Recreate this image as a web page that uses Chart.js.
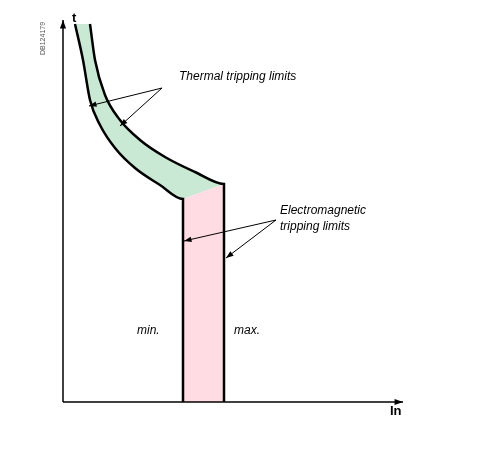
<!DOCTYPE html>
<html><head><meta charset="utf-8">
<script src="https://cdn.jsdelivr.net/npm/chart.js@4/dist/chart.umd.min.js"></script>
<style>html,body{margin:0;background:#fff}#wrap{width:482px;height:465px}</style>
</head><body><div id="wrap"><canvas id="c"></canvas></div>
<script>
// values in diagram units: x = current (In), y = time (t)
const minCurve = [[12,378],[20,342],[27,302],[37,277],[52,254],[72,234],[97,217],[120,203],[120,0]]
const maxCurve = [[27,378],[32,342],[42,307],[57,282],[77,262],[102,245],[132,230],[161,218],[161,0]]
const axisEnd = {x: 340, y: 382}

const pts = a => a.map(p => ({x: p[0], y: p[1]}))

const bands = {
  id: 'bands',
  beforeDatasetsDraw(chart) {
    let ctx = chart.ctx, sx = chart.scales.x, sy = chart.scales.y
    let P = p => [sx.getPixelForValue(p[0]), sy.getPixelForValue(p[1])]
    let poly = (list, color) => {
      ctx.beginPath()
      list.forEach((p, i) => { let q = P(p); i ? ctx.lineTo(q[0], q[1]) : ctx.moveTo(q[0], q[1]) })
      ctx.closePath(); ctx.fillStyle = color; ctx.fill()
    }
    let n = minCurve.length - 1
    poly(minCurve.slice(0, n).concat(maxCurve.slice(0, n).reverse()), '#c9e9d4')
    poly([minCurve[n - 1], maxCurve[n - 1], maxCurve[n], minCurve[n]], '#ffdbe3')
  },
  afterDatasetsDraw(chart) {
    let ctx = chart.ctx, sx = chart.scales.x, sy = chart.scales.y
    let P = (x, y) => [sx.getPixelForValue(x), sy.getPixelForValue(y)]
    let arrow = (a, b, head, w) => {
      ctx.beginPath(); ctx.moveTo(a[0], a[1]); ctx.lineTo(b[0], b[1]); ctx.lineWidth = w; ctx.strokeStyle = '#000'; ctx.stroke()
      let ang = Math.atan2(b[1] - a[1], b[0] - a[0])
      ctx.beginPath(); ctx.moveTo(b[0], b[1])
      ctx.lineTo(b[0] - head * Math.cos(ang - 0.35), b[1] - head * Math.sin(ang - 0.35))
      ctx.lineTo(b[0] - head * Math.cos(ang + 0.35), b[1] - head * Math.sin(ang + 0.35))
      ctx.closePath(); ctx.fillStyle = '#000'; ctx.fill()
    }
    // axes
    arrow(P(0, 0), P(0, axisEnd.y), 9, 1.5)
    arrow(P(0, 0), P(axisEnd.x, 0), 9, 1.5)
    // leader arrows
    arrow([162, 88], [89, 106], 8, 1)
    arrow([162, 88], [120, 126], 8, 1)
    arrow([276, 220], [184, 241], 8, 1)
    arrow([276, 220], [226, 258], 8, 1)
    ctx.fillStyle = '#000'; ctx.textBaseline = 'alphabetic'
    ctx.font = 'italic 12px "Liberation Sans", Arial'
    ctx.fillText('Thermal tripping limits', 179, 80)
    ctx.fillText('Electromagnetic', 280, 214)
    ctx.fillText('tripping limits', 280, 230)
    ctx.fillText('min.', 137, 334)
    ctx.fillText('max.', 234, 334)
    ctx.font = 'bold 13px "Liberation Sans", Arial'
    ctx.fillText('t', 72, 22)
    ctx.fillText('In', 390, 415)
    ctx.save(); ctx.translate(45, 55); ctx.rotate(-Math.PI / 2)
    ctx.font = '7px "Liberation Sans", Arial'; ctx.fillStyle = '#555'
    ctx.fillText('DB124179', 0, 0); ctx.restore()
  }
}

new Chart(document.getElementById('c'), {
  type: 'scatter',
  data: {
    datasets: [
      {data: pts(minCurve), showLine: true, borderColor: '#000', borderWidth: 2.5, pointRadius: 0, tension: 0.4, cubicInterpolationMode: 'monotone'},
      {data: pts(maxCurve), showLine: true, borderColor: '#000', borderWidth: 2.5, pointRadius: 0, tension: 0.4, cubicInterpolationMode: 'monotone'}
    ]
  },
  options: {
    responsive: true, maintainAspectRatio: false, animation: false,
    layout: {padding: 0},
    plugins: {legend: {display: false}, tooltip: {enabled: false}},
    scales: {
      x: {type: 'linear', min: -63, max: 419, display: false},
      y: {type: 'linear', min: -63, max: 402, display: false}
    }
  },
  plugins: [bands]
})
</script></body></html>
